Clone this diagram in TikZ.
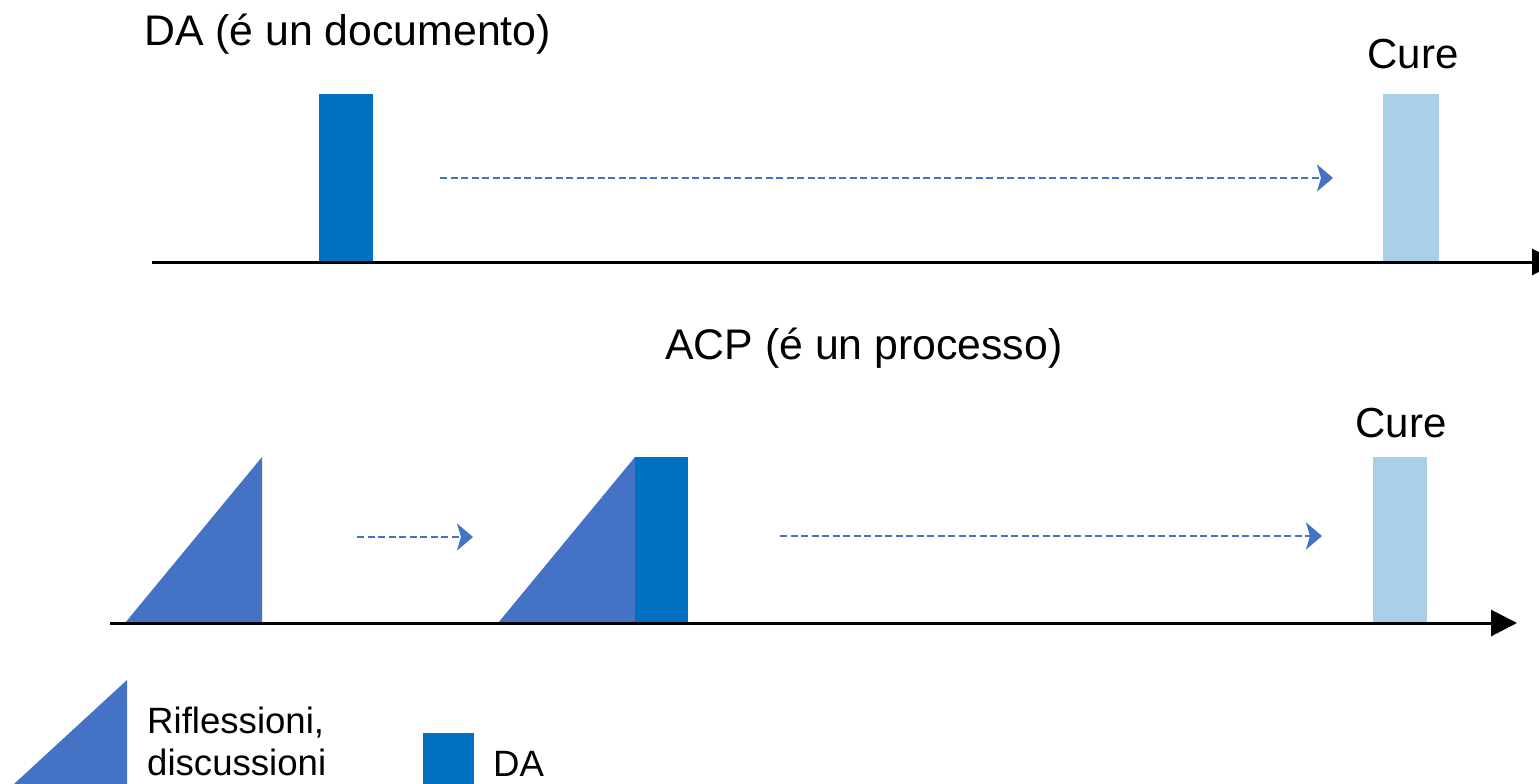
\documentclass[tikz,border=0pt]{standalone}
\usepackage{fontspec}
\setmainfont{Liberation Sans}
\usetikzlibrary{arrows.meta}
\definecolor{triblue}{HTML}{4472C4}
\definecolor{dablue}{HTML}{0070C0}
\definecolor{cureblue}{HTML}{AACFE9}
\tikzset{
  axis/.style={line width=3pt, black, -{Triangle[length=26pt,width=26pt]}},
  flow/.style={line width=2.7pt, triblue, dash pattern=on 7pt off 3.5pt, -{Stealth[length=16pt,width=27pt,inset=4pt]}},
  title/.style={font=\fontsize{42.8}{50}\selectfont, anchor=base west, inner sep=0pt},
  curelbl/.style={font=\fontsize{42}{50}\selectfont, anchor=base, inner sep=0pt},
  legendtxt/.style={font=\fontsize{36.6}{42}\selectfont, anchor=base west, inner sep=0pt, align=left},
  darect/.style={fill=dablue, draw=none},
  curerect/.style={fill=cureblue, draw=none},
  tri/.style={fill=triblue, draw=none}
}
\begin{document}
\begin{tikzpicture}[x=1pt,y=-1pt]
\useasboundingbox (0,0) rectangle (1539,784);
% ---------- top ----------
\node[title] (t1) at (144,46) {DA (é un documento)};
\fill[darect] (319,94) rectangle (373,262);
\fill[curerect] (1383,94) rectangle (1439,262);
\node[curelbl] (c1) at (1413,68) {Cure};
\coordinate (f1s) at (440,178);
\coordinate (f1e) at (1333,178);
\draw[flow] (f1s) -- (f1e);
\coordinate (a1s) at (152,262);
\coordinate (a1e) at (1558,262);
\draw[axis] (a1s) -- (a1e);
% ---------- bottom ----------
\node[title] (t2) at (665,359) {ACP (é un processo)};
\fill[tri] (125,623) -- (262,457) -- (262,623) -- cycle;
\fill[tri] (498,623) -- (635,457) -- (635,623) -- cycle;
\fill[darect] (635,457) rectangle (688,623);
\fill[curerect] (1373,457) rectangle (1427,623);
\node[curelbl] (c2) at (1401,437) {Cure};
\coordinate (f2s) at (357,537);
\coordinate (f2e) at (473,537);
\draw[flow] (f2s) -- (f2e);
\coordinate (f3s) at (780,536);
\coordinate (f3e) at (1322,536);
\draw[flow] (f3s) -- (f3e);
\coordinate (a2s) at (110,623);
\coordinate (a2e) at (1517,623);
\draw[axis] (a2s) -- (a2e);
% ---------- legend ----------
\fill[tri] (14,784) -- (127,680) -- (127,784) -- cycle;
\node[legendtxt] (l1) at (147,733) {Riflessioni,};
\node[legendtxt] (l2) at (147,775) {discussioni};
\fill[darect] (423,733) rectangle (474,784);
\node[legendtxt] (l3) at (493,776) {DA};
\end{tikzpicture}
\end{document}
